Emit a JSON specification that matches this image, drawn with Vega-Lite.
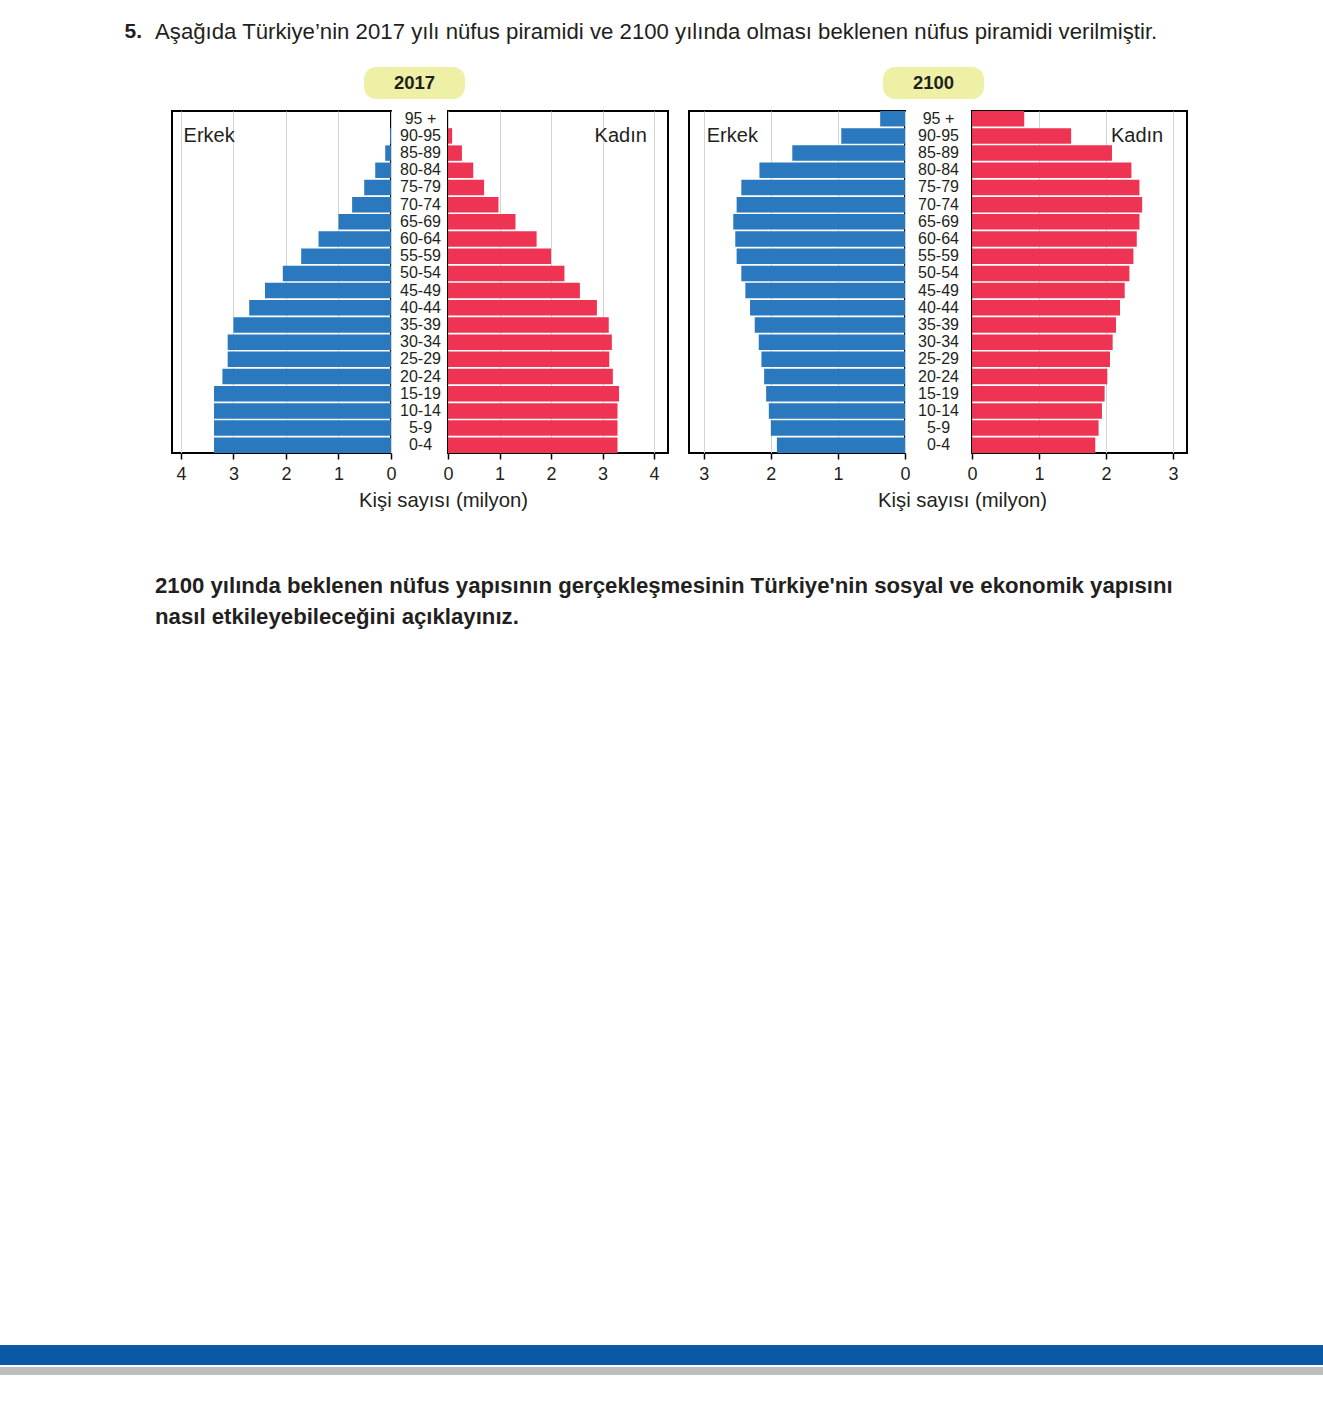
{
  "$schema": "https://vega.github.io/schema/vega-lite/v6.json",
  "background": "white",
  "padding": 0,
  "bounds": "flush",
  "spacing": 0,
  "config": {
    "font": "Liberation Sans",
    "view": {"stroke": null},
    "title": {"color": "#231f20", "fontWeight": "normal"},
    "text": {"color": "#231f20"},
    "axisX": {"grid": true, "gridColor": "#d4d4d4", "gridWidth": 1, "domain": false, "tickColor": "#000000", "tickSize": 6, "tickWidth": 1.5, "labelFontSize": 18, "labelColor": "#231f20", "labelPadding": 6, "labelFlush": false, "labelOverlap": false},
    "axisY": {"grid": false, "domain": false, "ticks": false, "tickSize": 0, "labelFontSize": 16, "labelColor": "#231f20", "labelAlign": "center", "labelBaseline": "middle"}
  },
  "datasets": {
    "pop": [
      {"year": 2017, "sex": "Erkek", "age": "95 +", "value": 0},
      {"year": 2017, "sex": "Erkek", "age": "90-95", "value": 0.02},
      {"year": 2017, "sex": "Erkek", "age": "85-89", "value": 0.11},
      {"year": 2017, "sex": "Erkek", "age": "80-84", "value": 0.30},
      {"year": 2017, "sex": "Erkek", "age": "75-79", "value": 0.51},
      {"year": 2017, "sex": "Erkek", "age": "70-74", "value": 0.74},
      {"year": 2017, "sex": "Erkek", "age": "65-69", "value": 1.00},
      {"year": 2017, "sex": "Erkek", "age": "60-64", "value": 1.38},
      {"year": 2017, "sex": "Erkek", "age": "55-59", "value": 1.71},
      {"year": 2017, "sex": "Erkek", "age": "50-54", "value": 2.06},
      {"year": 2017, "sex": "Erkek", "age": "45-49", "value": 2.40},
      {"year": 2017, "sex": "Erkek", "age": "40-44", "value": 2.70},
      {"year": 2017, "sex": "Erkek", "age": "35-39", "value": 3.00},
      {"year": 2017, "sex": "Erkek", "age": "30-34", "value": 3.11},
      {"year": 2017, "sex": "Erkek", "age": "25-29", "value": 3.11},
      {"year": 2017, "sex": "Erkek", "age": "20-24", "value": 3.21},
      {"year": 2017, "sex": "Erkek", "age": "15-19", "value": 3.37},
      {"year": 2017, "sex": "Erkek", "age": "10-14", "value": 3.37},
      {"year": 2017, "sex": "Erkek", "age": "5-9", "value": 3.37},
      {"year": 2017, "sex": "Erkek", "age": "0-4", "value": 3.37},
      {"year": 2017, "sex": "Kadın", "age": "95 +", "value": 0},
      {"year": 2017, "sex": "Kadın", "age": "90-95", "value": 0.08},
      {"year": 2017, "sex": "Kadın", "age": "85-89", "value": 0.27},
      {"year": 2017, "sex": "Kadın", "age": "80-84", "value": 0.49},
      {"year": 2017, "sex": "Kadın", "age": "75-79", "value": 0.70},
      {"year": 2017, "sex": "Kadın", "age": "70-74", "value": 0.98},
      {"year": 2017, "sex": "Kadın", "age": "65-69", "value": 1.31},
      {"year": 2017, "sex": "Kadın", "age": "60-64", "value": 1.72},
      {"year": 2017, "sex": "Kadın", "age": "55-59", "value": 2.00},
      {"year": 2017, "sex": "Kadın", "age": "50-54", "value": 2.26},
      {"year": 2017, "sex": "Kadın", "age": "45-49", "value": 2.56},
      {"year": 2017, "sex": "Kadın", "age": "40-44", "value": 2.89},
      {"year": 2017, "sex": "Kadın", "age": "35-39", "value": 3.12},
      {"year": 2017, "sex": "Kadın", "age": "30-34", "value": 3.18},
      {"year": 2017, "sex": "Kadın", "age": "25-29", "value": 3.13},
      {"year": 2017, "sex": "Kadın", "age": "20-24", "value": 3.20},
      {"year": 2017, "sex": "Kadın", "age": "15-19", "value": 3.32},
      {"year": 2017, "sex": "Kadın", "age": "10-14", "value": 3.29},
      {"year": 2017, "sex": "Kadın", "age": "5-9", "value": 3.29},
      {"year": 2017, "sex": "Kadın", "age": "0-4", "value": 3.29},
      {"year": 2100, "sex": "Erkek", "age": "95 +", "value": 0.37},
      {"year": 2100, "sex": "Erkek", "age": "90-95", "value": 0.95},
      {"year": 2100, "sex": "Erkek", "age": "85-89", "value": 1.68},
      {"year": 2100, "sex": "Erkek", "age": "80-84", "value": 2.17},
      {"year": 2100, "sex": "Erkek", "age": "75-79", "value": 2.44},
      {"year": 2100, "sex": "Erkek", "age": "70-74", "value": 2.51},
      {"year": 2100, "sex": "Erkek", "age": "65-69", "value": 2.56},
      {"year": 2100, "sex": "Erkek", "age": "60-64", "value": 2.53},
      {"year": 2100, "sex": "Erkek", "age": "55-59", "value": 2.51},
      {"year": 2100, "sex": "Erkek", "age": "50-54", "value": 2.44},
      {"year": 2100, "sex": "Erkek", "age": "45-49", "value": 2.38},
      {"year": 2100, "sex": "Erkek", "age": "40-44", "value": 2.31},
      {"year": 2100, "sex": "Erkek", "age": "35-39", "value": 2.24},
      {"year": 2100, "sex": "Erkek", "age": "30-34", "value": 2.18},
      {"year": 2100, "sex": "Erkek", "age": "25-29", "value": 2.14},
      {"year": 2100, "sex": "Erkek", "age": "20-24", "value": 2.10},
      {"year": 2100, "sex": "Erkek", "age": "15-19", "value": 2.07},
      {"year": 2100, "sex": "Erkek", "age": "10-14", "value": 2.03},
      {"year": 2100, "sex": "Erkek", "age": "5-9", "value": 2.00},
      {"year": 2100, "sex": "Erkek", "age": "0-4", "value": 1.91},
      {"year": 2100, "sex": "Kadın", "age": "95 +", "value": 0.78},
      {"year": 2100, "sex": "Kadın", "age": "90-95", "value": 1.48},
      {"year": 2100, "sex": "Kadın", "age": "85-89", "value": 2.09},
      {"year": 2100, "sex": "Kadın", "age": "80-84", "value": 2.38},
      {"year": 2100, "sex": "Kadın", "age": "75-79", "value": 2.50},
      {"year": 2100, "sex": "Kadın", "age": "70-74", "value": 2.54},
      {"year": 2100, "sex": "Kadın", "age": "65-69", "value": 2.50},
      {"year": 2100, "sex": "Kadın", "age": "60-64", "value": 2.46},
      {"year": 2100, "sex": "Kadın", "age": "55-59", "value": 2.41},
      {"year": 2100, "sex": "Kadın", "age": "50-54", "value": 2.35},
      {"year": 2100, "sex": "Kadın", "age": "45-49", "value": 2.28},
      {"year": 2100, "sex": "Kadın", "age": "40-44", "value": 2.21},
      {"year": 2100, "sex": "Kadın", "age": "35-39", "value": 2.15},
      {"year": 2100, "sex": "Kadın", "age": "30-34", "value": 2.10},
      {"year": 2100, "sex": "Kadın", "age": "25-29", "value": 2.06},
      {"year": 2100, "sex": "Kadın", "age": "20-24", "value": 2.02},
      {"year": 2100, "sex": "Kadın", "age": "15-19", "value": 1.98},
      {"year": 2100, "sex": "Kadın", "age": "10-14", "value": 1.94},
      {"year": 2100, "sex": "Kadın", "age": "5-9", "value": 1.89},
      {"year": 2100, "sex": "Kadın", "age": "0-4", "value": 1.84}
    ]
  },
  "vconcat": [
    {
      "bounds": "flush",
      "spacing": 0,
      "hconcat": [
        {"width": 155, "height": 67, "data": {"values": []}, "mark": "text",
         "title": {"text": "5.", "orient": "bottom", "anchor": "end", "offset": -46, "dx": -13, "fontSize": 21, "fontWeight": "bold"}},
        {"width": 1168, "height": 67, "data": {"values": []}, "mark": "text",
         "title": {"text": "Aşağıda Türkiye’nin 2017 yılı nüfus piramidi ve 2100 yılında olması beklenen nüfus piramidi verilmiştir.", "orient": "bottom", "anchor": "start", "offset": -46, "fontSize": 22.2}}
      ]
    },
    {"width": 1, "height": 67, "data": {"values": []}, "mark": "text"},
    {
      "bounds": "flush",
      "spacing": 0,
      "vconcat": [
        {
          "bounds": "flush",
          "spacing": 0,
          "hconcat": [
            {"width": 364, "height": 32, "data": {"values": []}, "mark": "text"},
            {"width": 101, "height": 32, "view": {"fill": "#eef0a6", "stroke": null, "cornerRadius": 12},
             "data": {"values": [{"label": "2017"}]},
             "mark": {"type": "text", "fontSize": 18.5, "fontWeight": "bold", "baseline": "middle"},
             "encoding": {"text": {"field": "label"}}},
            {"width": 418, "height": 32, "data": {"values": []}, "mark": "text"},
            {"width": 101, "height": 32, "view": {"fill": "#eef0a6", "stroke": null, "cornerRadius": 12},
             "data": {"values": [{"label": "2100"}]},
             "mark": {"type": "text", "fontSize": 18.5, "fontWeight": "bold", "baseline": "middle"},
             "encoding": {"text": {"field": "label"}}}
          ]
        },
        {"width": 1, "height": 44, "data": {"values": []}, "mark": "text"},
        {
          "bounds": "flush",
          "spacing": 0,
          "hconcat": [
            {"width": 172, "height": 342, "data": {"values": []}, "mark": "text"},
            {
              "width": 219, "height": 342,
              "view": {"stroke": "#000000", "strokeWidth": 2},
              "layer": [
                {
                  "data": {"name": "pop"},
                  "transform": [{"filter": "datum.year == 2017 && datum.sex == 'Erkek'"}],
                  "mark": {"type": "bar", "color": "#2a78bd"},
                  "encoding": {
                    "y": {"field": "age", "type": "nominal", "scale": {"domain": ["95 +","90-95","85-89","80-84","75-79","70-74","65-69","60-64","55-59","50-54","45-49","40-44","35-39","30-34","25-29","20-24","15-19","10-14","5-9","0-4"], "paddingInner": 0.1, "paddingOuter": 0}, "axis": null},
                    "x": {"field": "value", "type": "quantitative", "scale": {"domain": [0, 4.17], "reverse": true, "nice": false}, "axis": {"values": [0, 1, 2, 3, 4], "format": "d", "title": null}}
                  }
                },
                {
                  "data": {"values": [{"label": "Erkek"}]},
                  "mark": {"type": "text", "align": "left", "baseline": "middle", "fontSize": 20},
                  "encoding": {
                    "x": {"datum": 3.95, "type": "quantitative"},
                    "y": {"datum": "90-95", "type": "nominal"},
                    "text": {"field": "label"}
                  }
                }
              ]
            },
            {"width": 57, "height": 342, "data": {"values": []}, "mark": "text"},
            {
              "width": 220, "height": 342,
              "view": {"stroke": "#000000", "strokeWidth": 2},
              "layer": [
                {
                  "data": {"name": "pop"},
                  "transform": [{"filter": "datum.year == 2017 && datum.sex == 'Kadın'"}],
                  "mark": {"type": "bar", "color": "#ef3453"},
                  "encoding": {
                    "y": {"field": "age", "type": "nominal", "scale": {"domain": ["95 +","90-95","85-89","80-84","75-79","70-74","65-69","60-64","55-59","50-54","45-49","40-44","35-39","30-34","25-29","20-24","15-19","10-14","5-9","0-4"], "paddingInner": 0.1, "paddingOuter": 0}, "axis": {"orient": "left", "title": null, "labelPadding": 28}},
                    "x": {"field": "value", "type": "quantitative", "scale": {"domain": [0, 4.27], "nice": false}, "axis": {"values": [0, 1, 2, 3, 4], "format": "d", "title": "Kişi sayısı (milyon)", "titleX": -5, "titleY": 53, "titleAlign": "center", "titleBaseline": "alphabetic", "titleFontSize": 20.3, "titleFontWeight": "normal", "titleColor": "#231f20"}}
                  }
                },
                {
                  "data": {"values": [{"label": "Kadın"}]},
                  "mark": {"type": "text", "align": "right", "baseline": "middle", "fontSize": 20},
                  "encoding": {
                    "x": {"datum": 3.86, "type": "quantitative"},
                    "y": {"datum": "90-95", "type": "nominal"},
                    "text": {"field": "label"}
                  }
                }
              ]
            },
            {"width": 21, "height": 342, "data": {"values": []}, "mark": "text"},
            {
              "width": 216, "height": 342,
              "view": {"stroke": "#000000", "strokeWidth": 2},
              "layer": [
                {
                  "data": {"name": "pop"},
                  "transform": [{"filter": "datum.year == 2100 && datum.sex == 'Erkek'"}],
                  "mark": {"type": "bar", "color": "#2a78bd"},
                  "encoding": {
                    "y": {"field": "age", "type": "nominal", "scale": {"domain": ["95 +","90-95","85-89","80-84","75-79","70-74","65-69","60-64","55-59","50-54","45-49","40-44","35-39","30-34","25-29","20-24","15-19","10-14","5-9","0-4"], "paddingInner": 0.1, "paddingOuter": 0}, "axis": null},
                    "x": {"field": "value", "type": "quantitative", "scale": {"domain": [0, 3.22], "reverse": true, "nice": false}, "axis": {"values": [0, 1, 2, 3], "format": "d", "title": null}}
                  }
                },
                {
                  "data": {"values": [{"label": "Erkek"}]},
                  "mark": {"type": "text", "align": "left", "baseline": "middle", "fontSize": 20},
                  "encoding": {
                    "x": {"datum": 2.955, "type": "quantitative"},
                    "y": {"datum": "90-95", "type": "nominal"},
                    "text": {"field": "label"}
                  }
                }
              ]
            },
            {"width": 67, "height": 342, "data": {"values": []}, "mark": "text"},
            {
              "width": 215, "height": 342,
              "view": {"stroke": "#000000", "strokeWidth": 2},
              "layer": [
                {
                  "data": {"name": "pop"},
                  "transform": [{"filter": "datum.year == 2100 && datum.sex == 'Kadın'"}],
                  "mark": {"type": "bar", "color": "#ef3453"},
                  "encoding": {
                    "y": {"field": "age", "type": "nominal", "scale": {"domain": ["95 +","90-95","85-89","80-84","75-79","70-74","65-69","60-64","55-59","50-54","45-49","40-44","35-39","30-34","25-29","20-24","15-19","10-14","5-9","0-4"], "paddingInner": 0.1, "paddingOuter": 0}, "axis": {"orient": "left", "title": null, "labelPadding": 34}},
                    "x": {"field": "value", "type": "quantitative", "scale": {"domain": [0, 3.21], "nice": false}, "axis": {"values": [0, 1, 2, 3], "format": "d", "title": "Kişi sayısı (milyon)", "titleX": -10, "titleY": 53, "titleAlign": "center", "titleBaseline": "alphabetic", "titleFontSize": 20.3, "titleFontWeight": "normal", "titleColor": "#231f20"}}
                  }
                },
                {
                  "data": {"values": [{"label": "Kadın"}]},
                  "mark": {"type": "text", "align": "right", "baseline": "middle", "fontSize": 20},
                  "encoding": {
                    "x": {"datum": 2.855, "type": "quantitative"},
                    "y": {"datum": "90-95", "type": "nominal"},
                    "text": {"field": "label"}
                  }
                }
              ]
            }
          ]
        }
      ]
    },
    {"width": 1, "height": 386, "data": {"values": []}, "mark": "text"},
    {"width": 1323, "height": 892, "data": {"values": []}, "mark": "text",
     "title": {"text": ["2100 yılında beklenen nüfus yapısının gerçekleşmesinin Türkiye'nin sosyal ve ekonomik yapısını", "nasıl etkileyebileceğini açıklayınız."], "orient": "bottom", "anchor": "start", "offset": -770, "dx": 155, "fontSize": 22.2, "fontWeight": "bold", "lineHeight": 31}},
    {
      "bounds": "flush",
      "spacing": 2,
      "vconcat": [
        {"width": 1323, "height": 20, "view": {"fill": "#0a58a6", "stroke": null}, "data": {"values": []}, "mark": "text"},
        {"width": 1323, "height": 8, "view": {"fill": "#bcbdbf", "stroke": null}, "data": {"values": []}, "mark": "text"}
      ]
    }
  ]
}
